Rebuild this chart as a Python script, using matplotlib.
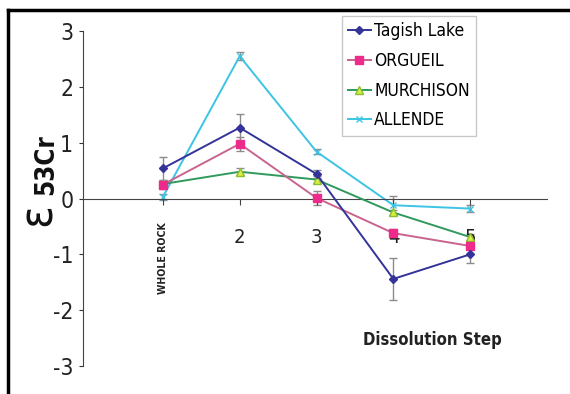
import numpy as np
import matplotlib.pyplot as plt
from matplotlib.lines import Line2D

plt.rcParams["axes.unicode_minus"] = False
plt.rcParams["font.family"] = ["DejaVu Sans"]
plt.rcParams["font.stretch"] = "condensed"

steps = ["WHOLE ROCK", "2", "3", "4", "5"]

tagish = [0.54, 1.27, 0.44, -1.44, -1.00]
tagish_err = [0.21, 0.25, 0.08, 0.37, 0.16]
orgueil = [0.25, 0.98, 0.01, -0.62, -0.85]
orgueil_err = [0.08, 0.13, 0.12, 0.08, 0.06]
murchison = [0.26, 0.48, 0.34, -0.25, -0.69]
murchison_err = [0.06, 0.06, 0.06, 0.05, 0.05]
allende = [0.03, 2.55, 0.84, -0.12, -0.18]
allende_err = [0.05, 0.07, 0.05, 0.17, 0.07]

x = np.arange(1, len(steps) + 1)

fig = plt.figure(figsize=(5.7, 3.94), dpi=100)
ax = fig.add_axes([0.1456, 0.0711, 0.814, 0.850])

err_kw = dict(fmt="none", ecolor="#8c8c8c", elinewidth=1.0, capsize=3, capthick=1.0, zorder=1)
ax.errorbar(x, tagish, yerr=tagish_err, **err_kw)
ax.errorbar(x, orgueil, yerr=orgueil_err, **err_kw)
ax.errorbar(x, murchison, yerr=murchison_err, **err_kw)
ax.errorbar(x, allende, yerr=allende_err, **err_kw)

ax.plot(x, allende, color="#3cc4e4", marker="x", ms=5, lw=1.4, label="ALLENDE", zorder=2)
ax.plot(x, murchison, color="#2f9a5c", marker="^", ms=6, mfc="#d8f040", mec="#8cbc30",
        lw=1.4, label="MURCHISON", zorder=3)
ax.plot(x, orgueil, color="#c8648f", marker="s", ms=6, mfc="#ee2a8a", mec="#ee2a8a",
        lw=1.4, label="ORGUEIL", zorder=3)
ax.plot(x, tagish, color="#333399", marker="D", ms=4.5, lw=1.4, label="Tagish Lake", zorder=4)

ax.set_xlim(-0.04, 6.0)
ax.set_ylim(-3, 3)
ax.set_yticks([-3, -2, -1, 0, 1, 2, 3])
ax.tick_params(axis="y", labelsize=16.5, length=3, pad=4, color="#333333", labelcolor="#222222")

ax.spines["bottom"].set_position(("data", 0))
ax.spines["bottom"].set_color("#444444")
ax.spines["left"].set_color("#444444")
ax.spines["top"].set_visible(False)
ax.spines["right"].set_visible(False)

ax.set_xticks(x)
ax.set_xticklabels([""] + steps[1:])
ax.tick_params(axis="x", direction="out", length=4, pad=17, labelsize=14.5,
               color="#444444", labelcolor="#222222")
for lab in ax.get_xticklabels():
    lab.set_zorder(1)

ax.annotate(steps[0], xy=(x[0], 0), xytext=(0, -17.3), textcoords="offset points",
            rotation=90, ha="center", va="top", fontsize=7.6, fontweight="bold",
            color="#222222")

# y label: big epsilon with bold "53Cr" beside it
fig.text(38 / 570, 1 - 215 / 394, "ε", rotation=90, ha="center", va="center",
         fontsize=34, color="#111111")
fig.text(46 / 570, 1 - 165 / 394, "53Cr", rotation=90, ha="center", va="center",
         fontsize=18.5, fontweight="bold", color="#111111")

ax.text(0.752, 0.078, "Dissolution Step", transform=ax.transAxes, ha="center",
        va="center", fontsize=12, fontweight="bold", color="#222222")

handles, labels = ax.get_legend_handles_labels()
leg = ax.legend(handles[::-1], labels[::-1], loc="upper left",
                bbox_to_anchor=(342 / 570, 1 - 16 / 394), bbox_transform=fig.transFigure,
                fontsize=12.5, frameon=True, fancybox=False, edgecolor="#bbbbbb",
                handlelength=1.3, handletextpad=0.2, labelspacing=0.68,
                borderpad=0.35, borderaxespad=0)
leg.get_frame().set_linewidth(1.0)

fig.add_artist(Line2D([8 / 570, 1], [1 - 10 / 394, 1 - 10 / 394],
                      transform=fig.transFigure, color="black", lw=2.5))
fig.add_artist(Line2D([8 / 570, 8 / 570], [1 - 10 / 394, 0],
                      transform=fig.transFigure, color="black", lw=2.5))

fig.savefig("out.png", dpi=100)
